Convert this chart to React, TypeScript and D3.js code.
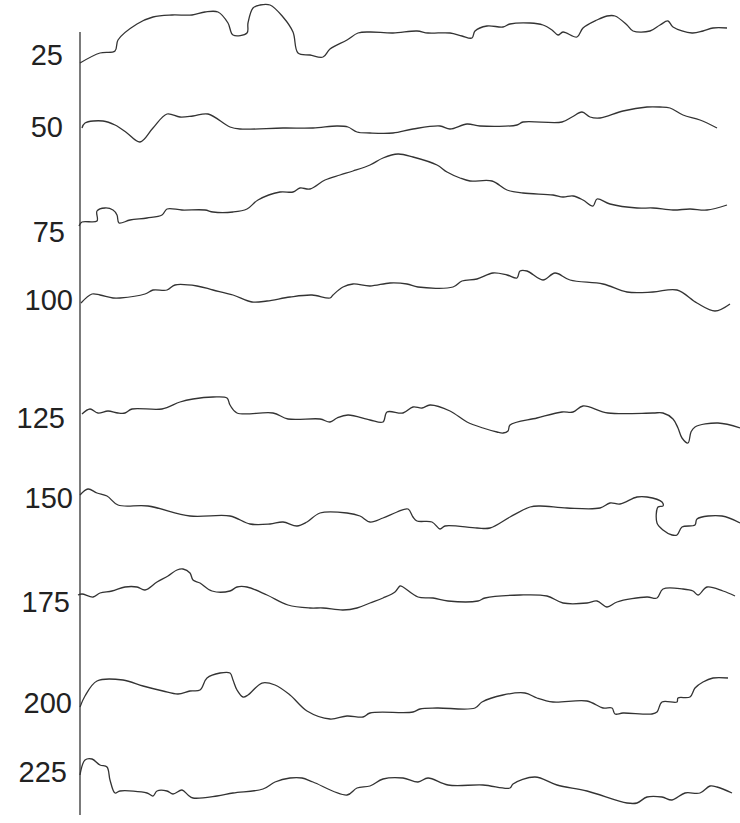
import { useEffect, useRef } from "react";
import * as d3 from "d3";

// channel labels (depth) shown left of the axis
const depths = [25, 50, 75, 100, 125, 150, 175, 200, 225];
// vertical position of each label (same units as the traces)
const depthLevels = [65, 137, 242, 310, 428, 508, 612, 713, 782];
// right edge of each label, in time units (labels sit left of t=0)
const labelEnds = [-17, -17, -15, -7, -15, -7, -10, -8, -13];

// traces: [time, level]
const trace25: [number, number][] = [
  [0, 63], [20, 53], [35, 51], [38, 40], [57, 24], [73, 17], [92, 15], [112, 15], [125, 12], [138, 12],
  [148, 23], [153, 35], [167, 33], [168, 23], [173, 8], [180, 5], [190, 5], [203, 17], [213, 32], [218, 53],
  [230, 55], [243, 57], [250, 49], [267, 40], [278, 33], [290, 32], [313, 33], [337, 31], [348, 33], [370, 33],
  [382, 36], [392, 38], [395, 31], [407, 26], [423, 27], [430, 24], [450, 23], [463, 25], [472, 30], [478, 35],
  [483, 32], [497, 37], [503, 28], [517, 20], [527, 16], [535, 16], [547, 25], [553, 31], [570, 31], [580, 25],
  [588, 21], [593, 27], [612, 33], [623, 31], [633, 28], [647, 28],
];
const trace50: [number, number][] = [
  [2, 128], [5, 123], [23, 121], [35, 125], [47, 133], [60, 142], [73, 128], [87, 114], [100, 117], [113, 116],
  [128, 114], [150, 127], [160, 129], [203, 128], [233, 128], [257, 126], [268, 127], [277, 132], [290, 133], [313, 133],
  [333, 129], [360, 126], [370, 129], [387, 124], [400, 126], [437, 125], [443, 122], [482, 122], [492, 117], [502, 112],
  [510, 117], [520, 118], [543, 111], [567, 107], [580, 107], [590, 108], [603, 115], [620, 120], [637, 128],
];
const trace75: [number, number][] = [
  [-1, 226], [2, 222], [17, 221], [17, 211], [25, 208], [33, 210], [37, 215], [39, 223], [50, 220], [67, 218],
  [82, 215], [87, 209], [102, 210], [125, 210], [133, 212], [153, 212], [167, 209], [178, 200], [200, 192], [213, 192],
  [220, 188], [230, 189], [245, 180], [260, 175], [273, 171], [290, 165], [303, 158], [318, 154], [333, 157], [357, 165],
  [367, 172], [380, 178], [390, 181], [412, 181], [427, 190], [443, 193], [473, 195], [483, 197], [493, 196], [503, 200],
  [513, 206], [517, 199], [530, 204], [557, 208], [573, 208], [593, 210], [610, 209], [627, 210], [647, 205],
];
const trace100: [number, number][] = [
  [1, 303], [12, 294], [20, 295], [33, 298], [40, 298], [65, 294], [73, 290], [87, 290], [95, 285], [117, 286],
  [133, 290], [153, 295], [172, 302], [187, 301], [210, 297], [232, 295], [250, 298], [253, 295], [263, 287], [273, 284],
  [290, 286], [310, 283], [327, 284], [338, 287], [373, 287], [382, 281], [397, 279], [413, 273], [427, 275], [437, 278],
  [440, 271], [447, 271], [463, 280], [475, 273], [490, 280], [523, 284], [547, 292], [573, 292], [597, 290], [617, 303],
  [635, 311], [650, 304],
];
const trace125: [number, number][] = [
  [2, 414], [10, 409], [18, 413], [28, 411], [38, 413], [45, 413], [52, 409], [82, 409], [100, 402], [113, 399],
  [133, 397], [147, 398], [150, 405], [157, 413], [193, 413], [208, 419], [240, 419], [250, 422], [257, 418], [268, 415],
  [290, 420], [303, 422], [307, 412], [323, 413], [333, 407], [342, 408], [350, 405], [370, 411], [387, 422], [403, 428],
  [417, 432], [423, 433], [428, 431], [430, 425], [457, 418], [482, 412], [493, 412], [503, 406], [528, 413], [573, 413],
  [583, 413], [593, 419], [598, 428], [602, 438], [608, 443], [611, 432], [615, 427], [638, 423], [660, 428],
];
const trace150: [number, number][] = [
  [0, 495], [8, 489], [17, 493], [27, 496], [38, 505], [68, 506], [110, 516], [150, 516], [170, 524], [190, 524],
  [203, 522], [217, 526], [227, 522], [240, 513], [267, 513], [280, 516], [290, 522], [303, 518], [317, 512], [328, 509],
  [333, 517], [337, 521], [352, 522], [360, 529], [365, 526], [397, 528], [410, 528], [430, 517], [450, 507], [460, 506],
  [487, 508], [520, 508], [530, 503], [540, 504], [557, 497], [567, 497], [582, 502], [583, 506], [578, 507], [577, 523],
  [583, 530], [592, 535], [597, 535], [602, 527], [615, 525], [617, 519], [642, 516], [660, 523],
];
const trace175: [number, number][] = [
  [-2, 595], [2, 594], [13, 597], [20, 593], [32, 591], [45, 587], [57, 587], [65, 590], [77, 582], [88, 576],
  [97, 570], [103, 569], [110, 573], [113, 580], [120, 583], [132, 591], [150, 591], [157, 587], [167, 587], [187, 595],
  [208, 605], [230, 608], [243, 608], [263, 610], [277, 608], [290, 603], [303, 598], [315, 592], [320, 586], [323, 587],
  [338, 597], [353, 598], [368, 601], [398, 601], [405, 598], [440, 595], [467, 596], [483, 603], [507, 603], [517, 601],
  [527, 607], [537, 602], [567, 597], [577, 598], [583, 589], [603, 589], [613, 591], [618, 595], [627, 587], [643, 591],
  [655, 596],
];
const trace200: [number, number][] = [
  [0, 707], [5, 696], [17, 681], [43, 680], [63, 686], [83, 691], [98, 694], [110, 691], [120, 690], [127, 678],
  [140, 673], [150, 673], [153, 680], [157, 690], [163, 697], [168, 695], [182, 683], [195, 685], [210, 695], [227, 711],
  [250, 719], [267, 716], [283, 717], [290, 713], [333, 712], [340, 709], [357, 708], [395, 708], [402, 702], [423, 695],
  [445, 693], [457, 698], [473, 702], [507, 701], [523, 708], [532, 708], [535, 714], [543, 713], [572, 714], [577, 712],
  [582, 702], [597, 702], [598, 698], [610, 697], [615, 688], [623, 682], [633, 678], [648, 678],
];
const trace225: [number, number][] = [
  [0, 775], [5, 760], [12, 759], [20, 765], [27, 767], [30, 780], [35, 793], [40, 791], [67, 793], [73, 796],
  [77, 791], [87, 791], [93, 794], [102, 790], [108, 795], [113, 798], [137, 796], [153, 793], [183, 789], [195, 782],
  [210, 778], [222, 778], [233, 782], [267, 795], [277, 788], [290, 786], [303, 779], [323, 778], [338, 782], [348, 778],
  [368, 785], [403, 785], [430, 788], [433, 784], [455, 777], [477, 785], [507, 791], [547, 803], [557, 803], [567, 797],
  [582, 797], [592, 800], [605, 793], [620, 793], [630, 786], [637, 787], [652, 793],
];

const traces = [trace25, trace50, trace75, trace100, trace125, trace150, trace175, trace200, trace225];

export default function App() {
  const ref = useRef<SVGSVGElement>(null);

  useEffect(() => {
    document.body.style.margin = "0";
    const width = 740;
    const height = 823;

    const x = d3.scaleLinear().domain([0, 660]).range([80, 740]);
    const y = d3.scaleLinear().domain([0, 823]).range([0, height]);

    const svg = d3.select(ref.current);
    svg.selectAll("*").remove();
    svg.attr("width", width).attr("height", height);

    svg.append("rect").attr("width", width).attr("height", height).attr("fill", "#fff");

    // axis line
    svg.append("line")
      .attr("x1", x(0)).attr("x2", x(0))
      .attr("y1", y(32)).attr("y2", y(815))
      .attr("stroke", "#333")
      .attr("stroke-width", 1.3);

    const line = d3.line<[number, number]>()
      .x(d => x(d[0]))
      .y(d => y(d[1]))
      .curve(d3.curveCatmullRom.alpha(0.5));

    svg.selectAll("path.trace")
      .data(traces)
      .enter()
      .append("path")
      .attr("class", "trace")
      .attr("d", d => line(d))
      .attr("fill", "none")
      .attr("stroke", "#333")
      .attr("stroke-width", 1.3)
      .attr("stroke-linejoin", "round");

    svg.selectAll("text.depth")
      .data(depths)
      .enter()
      .append("text")
      .attr("class", "depth")
      .attr("x", (_, i) => x(labelEnds[i]))
      .attr("y", (_, i) => y(depthLevels[i]))
      .attr("text-anchor", "end")
      .attr("font-family", "'Liberation Sans', Arial, sans-serif")
      .attr("font-size", 29)
      .attr("fill", "#222")
      .text(d => d);
  }, []);

  return <svg ref={ref} style={{ display: "block" }} />;
}
